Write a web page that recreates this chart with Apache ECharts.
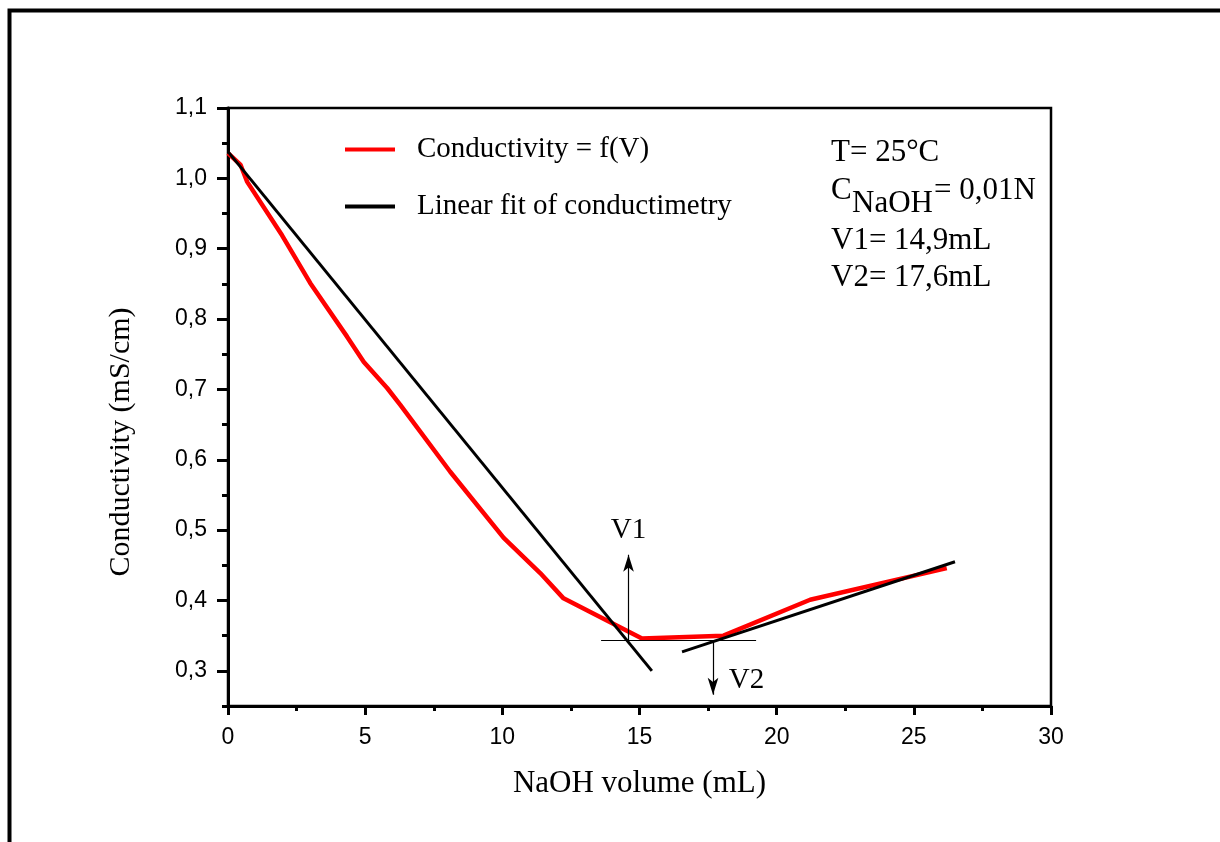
<!DOCTYPE html>
<html>
<head>
<meta charset="utf-8">
<script src="https://cdn.jsdelivr.net/npm/echarts@6/dist/echarts.min.js"></script>
<style>
  html, body { margin: 0; padding: 0; background: #fff; }
  #chart { width: 1220px; height: 842px; }
</style>
</head>
<body>
<div id="chart"></div>
<script>
// measured conductivity curve
const volume = [0, 0.46, 0.7, 1.97, 3.0, 4.34, 4.95, 5.8, 6.28, 8.1, 10.05, 11.38, 12.23, 15.09, 18.06, 21.22, 26.2];
const conductivity = [1.036, 1.019, 0.995, 0.919, 0.851, 0.775, 0.739, 0.702, 0.678, 0.583, 0.489, 0.439, 0.403, 0.346, 0.350, 0.401, 0.446];

// the two linear fits
const fit1X = [0, 15.45];
const fit1Y = [1.038, 0.300];
const fit2X = [16.55, 26.5];
const fit2Y = [0.327, 0.455];

// equivalence points guides
const guideLevel = 0.343;
const guideFrom = 13.6, guideTo = 19.25;
const v1X = 14.6, v1Top = 0.465;
const v2X = 17.68, v2Bottom = 0.266;
const guideLabels = [[14.6, 0.500, 'V1'], [18.9, 0.287, 'V2']];

// ticks
const yMajor = [0.3, 0.4, 0.5, 0.6, 0.7, 0.8, 0.9, 1.0, 1.1];
const yMinor = [0.25, 0.35, 0.45, 0.55, 0.65, 0.75, 0.85, 0.95, 1.05];

const serif = '"Liberation Serif", "Times New Roman", serif';
const sans = '"Liberation Sans", Arial, sans-serif';

const zip = (xs, ys) => xs.map((x, i) => [x, ys[i]]);

const chartDom = document.getElementById('chart');
const chart = echarts.init(chartDom);

const note = (x, y, text) => ({
    type: 'text', x: x, y: y,
    style: { text: text, font: '31px ' + serif, fill: '#000', verticalAlign: 'middle' }
});

chart.setOption({
    animation: false,
    backgroundColor: '#fff',
    grid: {
        left: 228, right: 169, top: 108, bottom: 136,
        show: true, borderColor: '#000', borderWidth: 2.5
    },
    legend: {
        left: 340, top: 130, orient: 'vertical',
        itemWidth: 50, itemHeight: 4, itemGap: 28, icon: 'rect',
        data: ['Conductivity = f(V)', 'Linear fit of conductimetry'],
        textStyle: { fontFamily: serif, fontSize: 29, color: '#000', padding: [0, 0, 0, 17] }
    },
    xAxis: {
        type: 'value', min: 0, max: 30, interval: 5,
        name: 'NaOH volume (mL)', nameLocation: 'middle', nameGap: 62,
        nameTextStyle: { fontFamily: serif, fontSize: 31, color: '#000' },
        axisLine: { show: true, lineStyle: { color: '#000', width: 3 } },
        axisTick: { show: true, inside: false, length: 9, lineStyle: { color: '#000', width: 3 } },
        minorTick: { show: true, splitNumber: 2, length: 5, lineStyle: { color: '#000', width: 3 } },
        axisLabel: { fontFamily: sans, fontSize: 23, color: '#000', margin: 20 },
        splitLine: { show: false }
    },
    yAxis: [{
        type: 'value', min: 0.25, max: 1.1, position: 'left',
        name: 'Conductivity (mS/cm)', nameLocation: 'middle', nameGap: 92,
        nameTextStyle: { fontFamily: serif, fontSize: 30, color: '#000', padding: [0, 70, 0, 0] },
        axisLine: { show: true, lineStyle: { color: '#000', width: 3 } },
        axisTick: { show: true, length: 11, customValues: yMajor, lineStyle: { color: '#000', width: 3 } },
        axisLabel: {
            fontFamily: sans, fontSize: 23, color: '#000', margin: 21, customValues: yMajor,
            formatter: v => v.toFixed(1).replace('.', ',')
        },
        splitLine: { show: false }
    }, {
        type: 'value', min: 0.25, max: 1.1, position: 'left',
        axisLine: { show: false },
        axisTick: { show: true, length: 6, customValues: yMinor, lineStyle: { color: '#000', width: 3 } },
        axisLabel: { show: false },
        splitLine: { show: false }
    }],
    graphic: [
        {
            type: 'rect', silent: true, z: 100,
            shape: { x: 9.5, y: 10.5, width: 1400, height: 1000 },
            style: { fill: 'none', stroke: '#000', lineWidth: 4 }
        },
        note(831, 153, 'T= 25°C'),
        note(831, 191, 'C'),
        note(852, 204, 'NaOH'),
        note(934, 191, '= 0,01N'),
        note(831, 241, 'V1= 14,9mL'),
        note(831, 278, 'V2= 17,6mL')
    ],
    series: [
        {
            name: 'Conductivity = f(V)', type: 'line', symbol: 'none',
            data: zip(volume, conductivity),
            lineStyle: { color: '#ff0000', width: 4.5 }, itemStyle: { color: '#ff0000' }, z: 3
        },
        {
            name: 'Linear fit of conductimetry', type: 'line', symbol: 'none',
            data: zip(fit1X, fit1Y),
            lineStyle: { color: '#000', width: 3 }, itemStyle: { color: '#000' }, z: 4
        },
        {
            name: 'Linear fit of conductimetry', type: 'line', symbol: 'none',
            data: zip(fit2X, fit2Y),
            lineStyle: { color: '#000', width: 3 }, itemStyle: { color: '#000' }, z: 4
        },
        {
            name: 'guides', type: 'line', data: [], silent: true,
            markLine: {
                silent: true, animation: false,
                symbol: ['none', 'arrow'], symbolSize: [8, 17],
                label: { show: false },
                lineStyle: { color: '#000', width: 1.2, type: 'solid' },
                emphasis: { disabled: true },
                data: [
                    [{ coord: [guideFrom, guideLevel], symbol: 'none' }, { coord: [guideTo, guideLevel], symbol: 'none' }],
                    [{ coord: [v1X, guideLevel] }, { coord: [v1X, v1Top] }],
                    [{ coord: [v2X, guideLevel] }, { coord: [v2X, v2Bottom] }]
                ]
            }
        },
        {
            name: 'guideLabels', type: 'custom', silent: true,
            data: guideLabels,
            renderItem: function (params, api) {
                const pt = api.coord([api.value(0), api.value(1)]);
                return {
                    type: 'text', x: pt[0], y: pt[1],
                    style: {
                        text: guideLabels[params.dataIndex][2],
                        font: '29px ' + serif, fill: '#000',
                        align: 'center', verticalAlign: 'middle'
                    }
                };
            }
        }
    ]
});
</script>
</body>
</html>
